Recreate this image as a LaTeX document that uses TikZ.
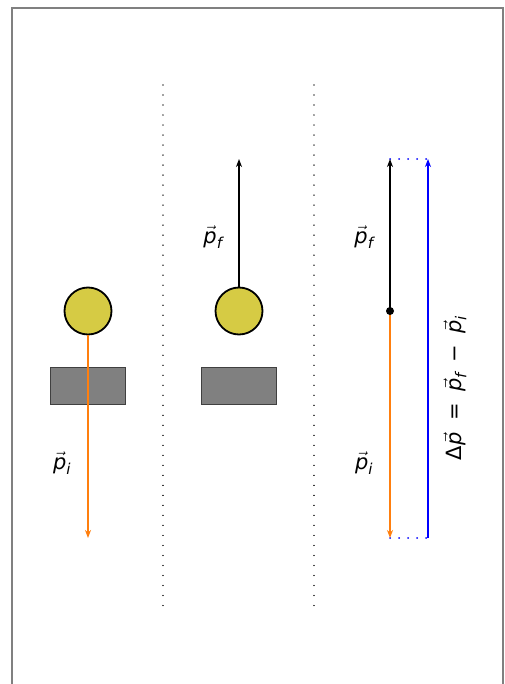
\documentclass[tikz,border=0pt]{standalone}
\usepackage{fontspec}
\setmainfont{DejaVu Sans}
\usetikzlibrary{arrows.meta}
\definecolor{mporange}{RGB}{255,127,14}
\definecolor{ballfill}{RGB}{214,203,68}
\definecolor{framegray}{RGB}{128,128,128}
\newcommand{\vpp}{\ensuremath{\vec{\hbox{\itshape p}}}}
\newcommand{\vp}[1]{\ensuremath{\vec{\hbox{\itshape p}}_{\hbox{\fontsize{15}{17}\selectfont\itshape #1}}}}
\begin{document}
\begin{tikzpicture}[x=1pt,y=-1pt,
  ball/.style={circle,draw=black,line width=1.8pt,fill=ballfill,minimum size=47pt,inner sep=0pt},
  block/.style={rectangle,draw=black!75,line width=1.8pt,fill=black!50,minimum width=75pt,minimum height=37pt,inner sep=0pt},
  arr/.style={line width=1.6pt,-{Stealth[length=8pt,width=6pt,inset=2.5pt]}},
  sep/.style={line width=1.4pt,dash pattern=on 0.01pt off 10pt,line cap=round,black!85},
  bluedot/.style={blue,line width=2pt,dash pattern=on 0.01pt off 9pt,line cap=round},
  lab/.style={font=\fontsize{21}{25}\selectfont,inner sep=0pt}]
\clip (0,0) rectangle (504,684);
\draw[framegray,line width=1.6pt] (12,8) rectangle (503,700);
% separators
\coordinate (s1t) at (163,85); \coordinate (s1b) at (163,606);
\coordinate (s2t) at (314,85); \coordinate (s2b) at (314,606);
\draw[sep] (s1t) -- (s1b);
\draw[sep] (s2t) -- (s2b);
% panel 1
\node[block] (r1) at (88,386) {};
\node[ball] (c1) at (88,311) {};
\coordinate (e1) at (88,538);
\draw[arr,mporange] (c1.south) -- (e1);
\node[lab] (l1) at (62,463) {\vp{i}};
% panel 2
\node[block] (r2) at (239,386) {};
\node[ball] (c2) at (239,311) {};
\coordinate (e2) at (239,159);
\draw[arr,black] (c2.north) -- (e2);
\node[lab] (l2) at (213,237) {\vp{f}};
% panel 3
\coordinate (d) at (390,311);
\coordinate (t3) at (390,159);
\coordinate (b3) at (390,538);
\coordinate (tb) at (428,159);
\coordinate (bb) at (428,538);
\draw[bluedot] (t3) -- (tb);
\draw[bluedot] (b3) -- (bb);
\draw[arr,black] (d) -- (t3);
\draw[arr,mporange] (d) -- (b3);
\draw[arr,blue] (bb) -- (tb);
\node[circle,fill=black,minimum size=8pt,inner sep=0pt] (dot) at (d) {};
\node[lab] (l3) at (364,237) {\vp{f}};
\node[lab] (l4) at (364,463) {\vp{i}};
\node[lab,rotate=90] (l5) at (455,388) {Δ\vpp\hspace{0.55em}=\hspace{0.55em}\vp{f}\hspace{0.5em}−\hspace{0.5em}\vp{i}};
\end{tikzpicture}
\end{document}
